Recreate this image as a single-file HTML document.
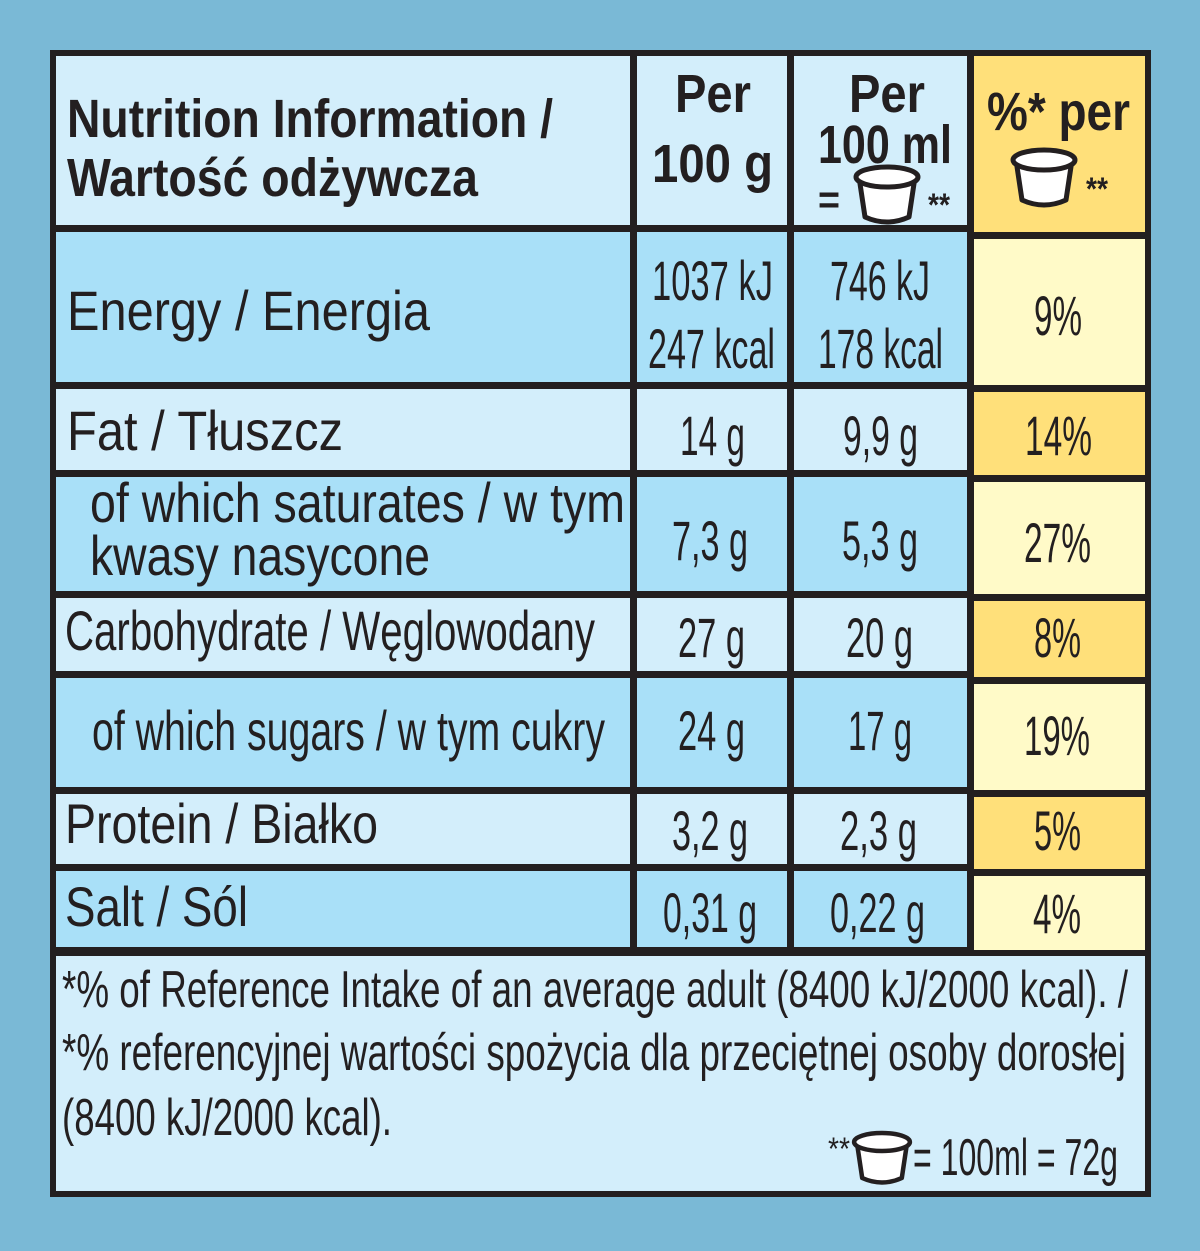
<!DOCTYPE html>
<html><head><meta charset="utf-8"><style>html,body{margin:0;padding:0;background:#7ab9d6}svg{display:block}text{font-family:"Liberation Sans",sans-serif;fill:#231f20}</style></head>
<body>
<svg width="1200" height="1251" viewBox="0 0 1200 1251" xmlns="http://www.w3.org/2000/svg">
<defs>
<g id="cup"><path d="M-28,0 L-22,40 Q0,50 22,40 L28,0 Z" fill="#fff" stroke="#231f20" stroke-width="5" stroke-linejoin="round"/><ellipse cx="0" cy="0" rx="31" ry="10" fill="#fff" stroke="#231f20" stroke-width="5"/></g>
</defs>
<rect width="1200" height="1251" fill="#7ab9d6"/>
<rect x="50" y="50" width="1101" height="1147" fill="#231f20"/>
<!-- header -->
<rect x="56" y="56" width="574" height="169" fill="#d3eefb"/>
<rect x="637" y="56" width="150" height="169" fill="#d3eefb"/>
<rect x="794" y="56" width="173" height="169" fill="#d3eefb"/>
<rect x="974" y="56" width="171" height="176" fill="#ffe07a"/>
<!-- energy -->
<rect x="56" y="232" width="574" height="150" fill="#a9e0f8"/>
<rect x="637" y="232" width="150" height="150" fill="#a9e0f8"/>
<rect x="794" y="232" width="173" height="150" fill="#a9e0f8"/>
<rect x="974" y="239" width="171" height="146" fill="#fffac8"/>
<!-- fat -->
<rect x="56" y="389" width="574" height="81" fill="#d3eefb"/>
<rect x="637" y="389" width="150" height="81" fill="#d3eefb"/>
<rect x="794" y="389" width="173" height="81" fill="#d3eefb"/>
<rect x="974" y="392" width="171" height="83" fill="#ffe07a"/>
<!-- sat -->
<rect x="56" y="477" width="574" height="114" fill="#a9e0f8"/>
<rect x="637" y="477" width="150" height="114" fill="#a9e0f8"/>
<rect x="794" y="477" width="173" height="114" fill="#a9e0f8"/>
<rect x="974" y="482" width="171" height="112" fill="#fffac8"/>
<!-- carb -->
<rect x="56" y="598" width="574" height="73" fill="#d3eefb"/>
<rect x="637" y="598" width="150" height="73" fill="#d3eefb"/>
<rect x="794" y="598" width="173" height="73" fill="#d3eefb"/>
<rect x="974" y="601" width="171" height="76" fill="#ffe07a"/>
<!-- sugars -->
<rect x="56" y="678" width="574" height="109" fill="#a9e0f8"/>
<rect x="637" y="678" width="150" height="109" fill="#a9e0f8"/>
<rect x="794" y="678" width="173" height="109" fill="#a9e0f8"/>
<rect x="974" y="684" width="171" height="106" fill="#fffac8"/>
<!-- protein -->
<rect x="56" y="794" width="574" height="70" fill="#d3eefb"/>
<rect x="637" y="794" width="150" height="70" fill="#d3eefb"/>
<rect x="794" y="794" width="173" height="70" fill="#d3eefb"/>
<rect x="974" y="797" width="171" height="72" fill="#ffe07a"/>
<!-- salt -->
<rect x="56" y="871" width="574" height="76" fill="#a9e0f8"/>
<rect x="637" y="871" width="150" height="76" fill="#a9e0f8"/>
<rect x="794" y="871" width="173" height="76" fill="#a9e0f8"/>
<rect x="974" y="876" width="171" height="74" fill="#fffac8"/>
<!-- footer -->
<rect x="56" y="956" width="1089" height="235" fill="#d3eefb"/>

<g font-weight="bold" font-size="54">
<text x="67" y="137" textLength="486" lengthAdjust="spacingAndGlyphs">Nutrition Information /</text>
<text x="67" y="196" textLength="411" lengthAdjust="spacingAndGlyphs">Wartość odżywcza</text>
<text x="675" y="112" textLength="76" lengthAdjust="spacingAndGlyphs">Per</text>
<text x="652" y="182" textLength="121" lengthAdjust="spacingAndGlyphs">100 g</text>
<text x="849" y="112" textLength="76" lengthAdjust="spacingAndGlyphs">Per</text>
<text x="818" y="163" textLength="134" lengthAdjust="spacingAndGlyphs">100 ml</text>
<text x="818" y="213" font-size="40" textLength="22" lengthAdjust="spacingAndGlyphs">=</text>
<text x="928" y="216" font-size="32" textLength="22" lengthAdjust="spacingAndGlyphs">**</text>
<text x="987" y="130" textLength="143" lengthAdjust="spacingAndGlyphs">%* per</text>
<text x="1086" y="200" font-size="32" textLength="22" lengthAdjust="spacingAndGlyphs">**</text>
</g>
<use href="#cup" x="887" y="177"/>
<use href="#cup" x="1044" y="160"/>

<g font-size="56">
<text x="67" y="330" textLength="363" lengthAdjust="spacingAndGlyphs">Energy / Energia</text>
<text x="67" y="450" textLength="276" lengthAdjust="spacingAndGlyphs">Fat / Tłuszcz</text>
<text x="90" y="522" textLength="535" lengthAdjust="spacingAndGlyphs">of which saturates / w tym</text>
<text x="90" y="575" textLength="340" lengthAdjust="spacingAndGlyphs">kwasy nasycone</text>
<text x="65" y="650" textLength="530" lengthAdjust="spacingAndGlyphs">Carbohydrate / Węglowodany</text>
<text x="92" y="750" textLength="513" lengthAdjust="spacingAndGlyphs">of which sugars / w tym cukry</text>
<text x="65" y="843" textLength="313" lengthAdjust="spacingAndGlyphs">Protein / Białko</text>
<text x="65" y="926" textLength="183" lengthAdjust="spacingAndGlyphs">Salt / Sól</text>

<text x="652" y="300" textLength="121" lengthAdjust="spacingAndGlyphs">1037 kJ</text>
<text x="648" y="368" textLength="127" lengthAdjust="spacingAndGlyphs">247 kcal</text>
<text x="830" y="300" textLength="100" lengthAdjust="spacingAndGlyphs">746 kJ</text>
<text x="818" y="368" textLength="125" lengthAdjust="spacingAndGlyphs">178 kcal</text>
<text x="1034" y="335" textLength="48" lengthAdjust="spacingAndGlyphs">9%</text>

<text x="680" y="455" textLength="65" lengthAdjust="spacingAndGlyphs">14 g</text>
<text x="843" y="455" textLength="75" lengthAdjust="spacingAndGlyphs">9,9 g</text>
<text x="1025" y="455" textLength="67" lengthAdjust="spacingAndGlyphs">14%</text>

<text x="672" y="560" textLength="76" lengthAdjust="spacingAndGlyphs">7,3 g</text>
<text x="842" y="560" textLength="76" lengthAdjust="spacingAndGlyphs">5,3 g</text>
<text x="1024" y="562" textLength="67" lengthAdjust="spacingAndGlyphs">27%</text>

<text x="678" y="657" textLength="67" lengthAdjust="spacingAndGlyphs">27 g</text>
<text x="846" y="657" textLength="67" lengthAdjust="spacingAndGlyphs">20 g</text>
<text x="1034" y="657" textLength="47" lengthAdjust="spacingAndGlyphs">8%</text>

<text x="678" y="750" textLength="67" lengthAdjust="spacingAndGlyphs">24 g</text>
<text x="848" y="750" textLength="64" lengthAdjust="spacingAndGlyphs">17 g</text>
<text x="1024" y="755" textLength="66" lengthAdjust="spacingAndGlyphs">19%</text>

<text x="672" y="850" textLength="76" lengthAdjust="spacingAndGlyphs">3,2 g</text>
<text x="840" y="850" textLength="77" lengthAdjust="spacingAndGlyphs">2,3 g</text>
<text x="1034" y="850" textLength="47" lengthAdjust="spacingAndGlyphs">5%</text>

<text x="663" y="932" textLength="94" lengthAdjust="spacingAndGlyphs">0,31 g</text>
<text x="830" y="932" textLength="95" lengthAdjust="spacingAndGlyphs">0,22 g</text>
<text x="1033" y="933" textLength="48" lengthAdjust="spacingAndGlyphs">4%</text>

<text x="62" y="1007" font-size="52" textLength="1066" lengthAdjust="spacingAndGlyphs">*% of Reference Intake of an average adult (8400 kJ/2000 kcal). /</text>
<text x="62" y="1070" font-size="52" textLength="1064" lengthAdjust="spacingAndGlyphs">*% referencyjnej wartości spożycia dla przeciętnej osoby dorosłej</text>
<text x="62" y="1135" font-size="52" textLength="330" lengthAdjust="spacingAndGlyphs">(8400 kJ/2000 kcal).</text>
<text x="828" y="1160" font-size="32" textLength="22" lengthAdjust="spacingAndGlyphs">**</text>
<text x="913" y="1175" font-size="52" textLength="205" lengthAdjust="spacingAndGlyphs">= 100ml = 72g</text>
</g>
<use href="#cup" x="882" y="1142" transform="translate(882 1142) scale(0.9) translate(-882 -1142)"/>
</svg>
</body></html>
